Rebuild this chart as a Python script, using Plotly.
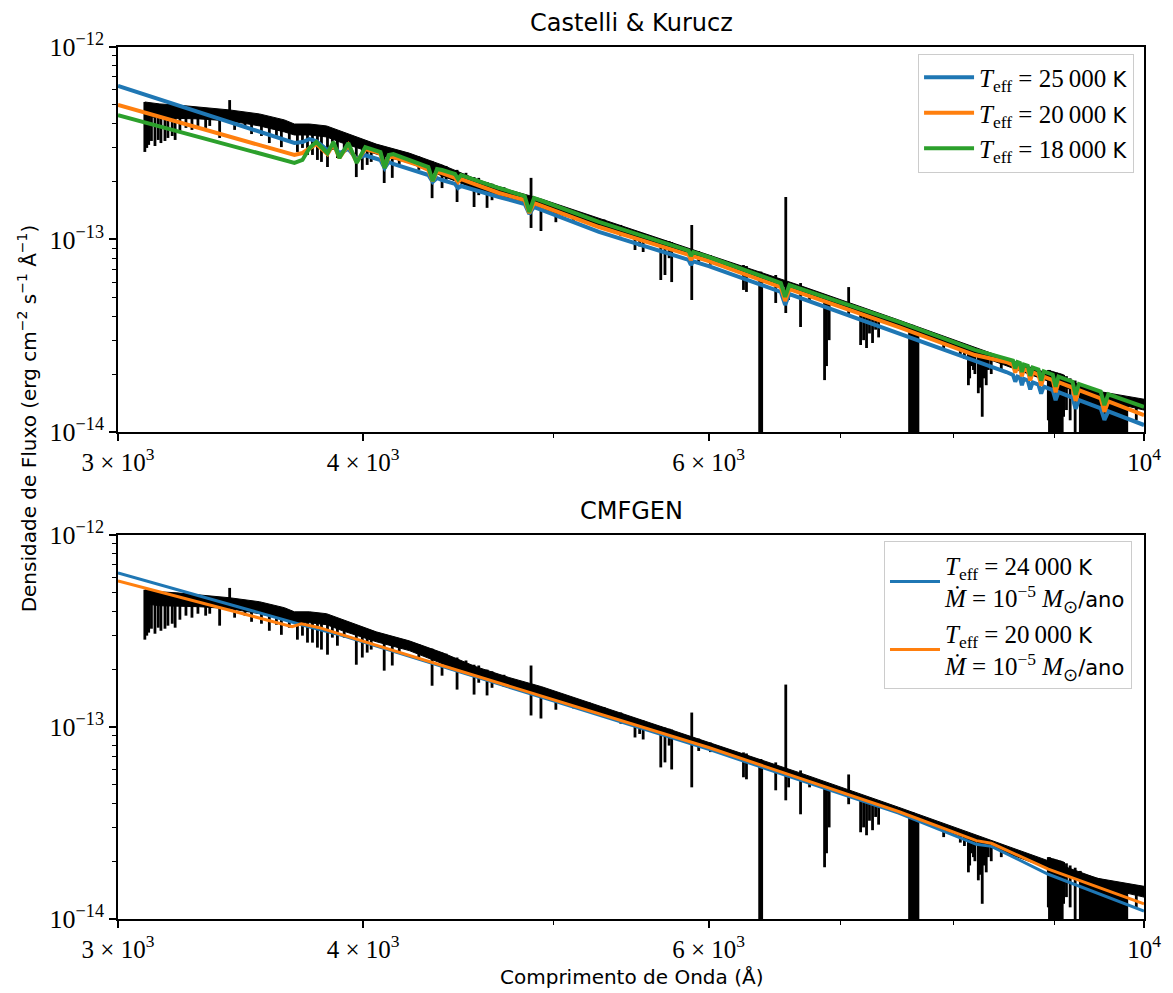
import plotly.graph_objects as go

# Fluxes are stored in units of 1e-13 erg cm^-2 s^-1 A^-1, wavelengths in Angstrom.
FLUX_UNIT = 1e-13

# Observed spectrum: continuum band (upper and lower envelope of the noise)
band_wave = [3096, 3151, 3215, 3302, 3420, 3542, 3647, 3690, 3756, 3832, 3904, 4062,
             4222, 4388, 4566, 4747, 4933, 5275, 5930, 6668, 7497, 8429, 9466, 10000]
band_hi = [5.18, 5.06, 4.995, 4.88, 4.71, 4.49, 4.18, 3.98, 3.98, 3.89, 3.62, 3.13,
           2.81, 2.44, 2.06, 1.81, 1.62, 1.29, 0.871, 0.580, 0.382, 0.248, 0.163, 0.148]
band_lo = [4.38, 4.28, 4.28, 4.23, 4.13, 3.89, 3.62, 3.49, 3.49, 3.41, 3.17, 2.78,
           2.50, 2.14, 1.83, 1.60, 1.44, 1.175, 0.802, 0.540, 0.355, 0.228, 0.148, 0.130]

# Observed spectrum: individual lines (wavelength, upper end, lower end)
line_wave = [3096, 3103, 3110, 3120, 3133, 3145, 3155, 3170, 3181, 3197, 3208, 3226,
             3249, 3272, 3295, 3325, 3341, 3380, 3420, 3440, 3482, 3509, 3550, 3583,
             3613, 3634, 3668, 3703, 3725, 3747, 3769, 3791, 3809, 3836, 3858, 3881,
             3912, 3968, 3996, 4019, 4038, 4100, 4139, 4173, 4270, 4337, 4388, 4409,
             4466, 4513, 4556, 4581, 4626, 4653, 4719, 4871, 4928, 5015, 5120, 5216,
             5307, 5412, 5503, 5533, 5556, 5672, 5700, 5728, 5745, 5882, 5930, 6012,
             6250, 6272, 6370, 6375, 6380, 6385, 6491, 6568, 6590, 6683, 6754, 6874,
             6890, 6911, 7071, 7171, 7196, 7221, 7246, 7272, 7298, 7324, 7595, 7610,
             7625, 7640, 7655, 7670, 7905, 8061, 8100, 8138, 8150, 8165, 8186, 8200,
             8233, 8250, 8271, 8290, 8310, 8330, 8359, 8458, 8938, 8950, 8965, 8980,
             8995, 9010, 9025, 9040, 9055, 9070, 9085, 9100, 9130, 9170, 9224, 9280,
             9300, 9320, 9340, 9360, 9380, 9400, 9420, 9440, 9460, 9480, 9500, 9520,
             9540, 9560, 9580, 9600, 9620, 9640, 9660, 9680, 9700, 9720, 9740, 9760,
             9780, 9800, 9910]
line_top = [5.18, 4.71, 4.71, 4.60, 4.60, 4.60, 4.60, 4.54, 4.54, 4.49, 4.49, 4.43,
            4.43, 4.43, 4.38, 4.38, 4.38, 4.33, 5.30, 4.23, 4.18, 4.13, 4.03, 3.98,
            3.93, 3.89, 3.80, 3.80, 3.80, 3.80, 3.80, 3.75, 3.75, 3.71, 3.66, 3.57,
            3.49, 3.33, 3.29, 3.21, 3.17, 3.02, 2.92, 2.85, 2.70, 2.56, 2.44, 2.41,
            2.30, 2.22, 2.11, 2.09, 1.99, 1.95, 1.87, 2.09, 1.60, 1.51, 1.40, 1.34,
            1.27, 1.19, 1.11, 1.09, 1.08, 1.006, 0.994, 0.98, 0.970, 1.189, 0.87, 0.83,
            0.737, 0.728, 0.66, 0.68, 0.68, 0.66, 0.654, 1.663, 0.60, 0.594, 0.55, 0.485,
            0.485, 0.475, 0.566, 0.420, 0.415, 0.415, 0.405, 0.40, 0.395, 0.39, 0.36, 0.36,
            0.36, 0.35, 0.35, 0.35, 0.30, 0.28, 0.28, 0.276, 0.275, 0.274, 0.27, 0.27,
            0.267, 0.266, 0.264, 0.262, 0.26, 0.258, 0.255, 0.245, 0.21, 0.21, 0.208, 0.207,
            0.206, 0.205, 0.204, 0.203, 0.202, 0.201, 0.20, 0.198, 0.195, 0.19, 0.185, 0.178,
            0.172, 0.171, 0.17, 0.169, 0.168, 0.167, 0.166, 0.165, 0.164, 0.163, 0.162, 0.161,
            0.16, 0.159, 0.158, 0.157, 0.156, 0.155, 0.155, 0.154, 0.153, 0.152, 0.151, 0.151,
            0.15, 0.15, 0.15]
line_bot = [2.85, 2.99, 3.10, 3.25, 3.06, 3.29, 3.17, 3.25, 3.37, 3.45, 3.29, 3.62,
            3.80, 3.71, 3.89, 3.80, 3.89, 3.37, 4.43, 3.71, 3.80, 3.53, 3.45, 3.17,
            3.41, 3.02, 3.29, 2.85, 2.99, 2.75, 2.75, 2.59, 2.53, 2.38, 2.92, 2.65,
            2.92, 2.11, 2.30, 2.44, 2.53, 1.965, 2.09, 2.44, 2.30, 1.64, 1.85, 2.04,
            1.566, 1.92, 1.475, 1.70, 1.46, 1.60, 1.62, 1.148, 1.107, 1.23, 1.25, 1.19,
            1.13, 1.04, 0.882, 0.92, 0.861, 0.616, 0.654, 0.80, 0.601, 0.485, 0.75, 0.74,
            0.547, 0.534, 0.05, 0.05, 0.05, 0.05, 0.468, 0.415, 0.485, 0.351, 0.485, 0.186,
            0.22, 0.30, 0.396, 0.283, 0.30, 0.273, 0.325, 0.29, 0.34, 0.31, 0.05, 0.05,
            0.05, 0.05, 0.05, 0.07, 0.267, 0.25, 0.24, 0.175, 0.19, 0.22, 0.21, 0.20,
            0.159, 0.17, 0.120, 0.19, 0.175, 0.21, 0.20, 0.21, 0.115, 0.09, 0.05, 0.06,
            0.05, 0.05, 0.08, 0.05, 0.10, 0.05, 0.07, 0.12, 0.13, 0.115, 0.10, 0.05,
            0.05, 0.08, 0.05, 0.05, 0.09, 0.05, 0.05, 0.05, 0.08, 0.05, 0.05, 0.05,
            0.09, 0.05, 0.05, 0.08, 0.05, 0.05, 0.05, 0.09, 0.05, 0.05, 0.08, 0.05,
            0.06, 0.05, 0.115]

# Castelli & Kurucz model fluxes
kurucz_wave = [3000, 3690, 3725, 3756, 3786, 3836, 3863, 3890, 3931, 3970, 4010, 4062,
               4082, 4102, 4122, 4144, 4252, 4318, 4340, 4362, 4388, 4455, 4471, 4487,
               4691, 4835, 4861, 4888, 4920, 5275, 5860, 5876, 5892, 6000, 6530, 6563,
               6596, 7500, 8200, 8508, 8575, 8598, 8620, 8645, 8665, 8685, 8725, 8750,
               8775, 8835, 8863, 8890, 8985, 9015, 9045, 9195, 9229, 9265, 9505, 9546,
               9590, 10000]
kurucz_25000 = [6.27, 3.172, 3.209, 3.326, 3.248, 2.916, 3.059, 2.813, 2.952, 2.619, 2.74, 2.619,
                2.588, 2.351, 2.527, 2.467, 2.269, 2.163, 1.990, 2.087, 2.037, 1.943, 1.851, 1.897,
                1.663, 1.529, 1.357, 1.475, 1.440, 1.094, 0.784, 0.737, 0.770, 0.728, 0.534, 0.457,
                0.521, 0.327, 0.2337, 0.2049, 0.1980, 0.1825, 0.1940, 0.1919, 0.1750, 0.1885, 0.1851, 0.1664,
                0.1810, 0.1763, 0.1583, 0.1721, 0.1650, 0.1463, 0.1610, 0.1509, 0.1320, 0.1466, 0.1327, 0.1157,
                0.1281, 0.1087]
kurucz_20000 = [4.995, 2.748, 2.813, 2.952, 3.134, 2.780, 3.134, 2.651, 3.097, 2.527, 2.952, 2.848,
                2.780, 2.379, 2.683, 2.683, 2.467, 2.295, 2.013, 2.242, 2.215, 2.087, 1.990, 2.062,
                1.744, 1.604, 1.373, 1.547, 1.511, 1.161, 0.833, 0.782, 0.817, 0.773, 0.566, 0.479,
                0.553, 0.351, 0.251, 0.231, 0.2232, 0.2033, 0.2186, 0.2163, 0.1949, 0.2124, 0.2086, 0.1853,
                0.2040, 0.1987, 0.1742, 0.1940, 0.1860, 0.1610, 0.1815, 0.1701, 0.1452, 0.1652, 0.1494, 0.1273,
                0.1443, 0.1225]
kurucz_18000 = [4.43, 2.50, 2.59, 2.99, 3.21, 2.81, 3.21, 2.65, 3.17, 2.50, 3.02, 2.916,
                2.848, 2.351, 2.748, 2.780, 2.527, 2.379, 2.013, 2.324, 2.295, 2.189, 2.062, 2.163,
                1.851, 1.683, 1.389, 1.642, 1.604, 1.233, 0.876, 0.820, 0.859, 0.811, 0.594, 0.503,
                0.580, 0.373, 0.267, 0.242, 0.2349, 0.2137, 0.2305, 0.2280, 0.2049, 0.2242, 0.2205, 0.1957,
                0.2160, 0.2110, 0.1849, 0.2063, 0.1984, 0.1717, 0.1937, 0.1825, 0.1561, 0.1776, 0.1620, 0.1378,
                0.1568, 0.1349]

# CMFGEN model fluxes
cmfgen_wave = [3000, 3680, 3720, 3800, 3904, 5032, 6000, 7497, 8214, 8360, 8938, 10000]
cmfgen_24000 = [6.35, 3.49, 3.41, 3.22, 2.99, 1.341, 0.764, 0.356, 0.245, 0.239, 0.171, 0.110]
cmfgen_20000 = [5.77, 3.33, 3.45, 3.29, 3.02, 1.357, 0.782, 0.363, 0.256, 0.248, 0.182, 0.120]

BLUE, ORANGE, GREEN = "#1f77b4", "#ff7f0e", "#2ca02c"
SANS = "DejaVu Sans"
SERIF = "Liberation Serif"


def scaled(values):
    return [v * FLUX_UNIT for v in values]


def sans(s):
    return f"<span style=\"font-family:'{SANS}';font-size:21px\">{s}</span>"


def teff_label(value):
    return f"<i>T</i><sub>eff</sub> = {value} " + sans("K")


mdot_label = "<i>Ṁ</i> = 10<sup>−5</sup> <i>M</i><sub>⊙</sub>" + sans("/ano")

fig = go.Figure()

# Observed spectrum in both panels
for xa, ya in (("x", "y"), ("x2", "y2")):
    fig.add_trace(go.Scatter(
        x=band_wave + band_wave[::-1],
        y=scaled(band_hi + band_lo[::-1]),
        mode="lines", fill="toself", fillcolor="black",
        line=dict(color="black", width=1),
        xaxis=xa, yaxis=ya, showlegend=False, hoverinfo="skip"))
    seg_x, seg_y = [], []
    for w, top, bot in zip(line_wave, line_top, line_bot):
        seg_x += [w, w, None]
        seg_y += [top * FLUX_UNIT, bot * FLUX_UNIT, None]
    fig.add_trace(go.Scatter(
        x=seg_x, y=seg_y, mode="lines",
        line=dict(color="black", width=2.8),
        xaxis=xa, yaxis=ya, showlegend=False, hoverinfo="skip"))

# Castelli & Kurucz models
for flux, color, label in ((kurucz_25000, BLUE, "25\u2009000"),
                           (kurucz_20000, ORANGE, "20\u2009000"),
                           (kurucz_18000, GREEN, "18\u2009000")):
    fig.add_trace(go.Scatter(
        x=kurucz_wave, y=scaled(flux), mode="lines",
        line=dict(color=color, width=4),
        name=teff_label(label), legendgroup=label, legend="legend",
        xaxis="x", yaxis="y"))

# CMFGEN models
for flux, color, label in ((cmfgen_24000, BLUE, "24\u2009000"),
                           (cmfgen_20000, ORANGE, "20\u2009000")):
    fig.add_trace(go.Scatter(
        x=cmfgen_wave, y=scaled(flux), mode="lines",
        line=dict(color=color, width=3),
        name=teff_label(label) + "<br>" + mdot_label,
        legendgroup="c" + label, legend="legend2",
        xaxis="x2", yaxis="y2"))

x_tickvals = [3000, 4000, 6000, 10000]
x_ticktext = ["3 × 10<sup>3</sup>", "4 × 10<sup>3</sup>", "6 × 10<sup>3</sup>", "10<sup>4</sup>"]
x_minor = [5000, 7000, 8000, 9000]
y_tickvals = [1e-14, 1e-13, 1e-12]
y_ticktext = ["10<sup>−14</sup>", "10<sup>−13</sup>", "10<sup>−12</sup>"]
y_minor = [k * 10.0 ** e for e in (-14, -13) for k in range(2, 10)]

axis_common = dict(
    showline=True, linecolor="black", linewidth=1.6, mirror=True,
    showgrid=False, zeroline=False, ticks="outside", ticklen=7, tickwidth=1.6,
    tickcolor="black",
)
xaxis_common = dict(axis_common, type="log", range=[3.47712, 4.0],
                    tickfont=dict(family=SERIF, size=25, color="black"),
                    tickmode="array", tickvals=x_tickvals, ticktext=x_ticktext,
                    minor=dict(tickmode="array", tickvals=x_minor, ticks="outside",
                               ticklen=4, tickwidth=1.3, tickcolor="black"))
yaxis_common = dict(axis_common, type="log", range=[-14, -12],
                    tickfont=dict(family=SERIF, size=26, color="black"),
                    tickmode="array", tickvals=y_tickvals, ticktext=y_ticktext,
                    minor=dict(tickmode="array", tickvals=y_minor, ticks="outside",
                               ticklen=4, tickwidth=1.3, tickcolor="black"))

legend_common = dict(
    xanchor="right", yanchor="top", bgcolor="rgba(255,255,255,0.8)",
    bordercolor="#cccccc", borderwidth=1, font=dict(family=SERIF, size=25, color="black"),
    tracegroupgap=0, itemwidth=50,
)

fig.update_layout(
    width=1173, height=993, autosize=False,
    margin=dict(l=118, r=26, t=47, b=74),
    paper_bgcolor="white", plot_bgcolor="white",
    font=dict(family=SANS, size=20, color="black"),
    xaxis=dict(xaxis_common, domain=[0, 1], anchor="y"),
    yaxis=dict(yaxis_common, domain=[0.5585, 1], anchor="x"),
    xaxis2=dict(xaxis_common, domain=[0, 1], anchor="y2"),
    yaxis2=dict(yaxis_common, domain=[0, 0.4404], anchor="x2"),
    legend=dict(legend_common, x=0.9903, y=0.9925),
    legend2=dict(legend_common, x=0.9883, y=0.4330),
    annotations=[
        dict(text="Castelli &amp; Kurucz", x=0.5, y=1.0275, xref="paper", yref="paper",
             showarrow=False, font=dict(family=SANS, size=24), xanchor="center", yanchor="middle"),
        dict(text="CMFGEN", x=0.5, y=0.4679, xref="paper", yref="paper",
             showarrow=False, font=dict(family=SANS, size=24), xanchor="center", yanchor="middle"),
        dict(text="Comprimento de Onda (Å)", x=0.5, y=-0.0665, xref="paper", yref="paper",
             showarrow=False, font=dict(family=SANS, size=20), xanchor="center", yanchor="middle"),
        dict(text="Densidade de Fluxo (erg cm<sup>−2</sup> s<sup>−1</sup> Å<sup>−1</sup>)",
             x=-0.0884, y=0.5745, xref="paper", yref="paper", textangle=-90,
             showarrow=False, font=dict(family=SANS, size=20), xanchor="center", yanchor="middle"),
    ],
)

fig.write_html("out.html")
